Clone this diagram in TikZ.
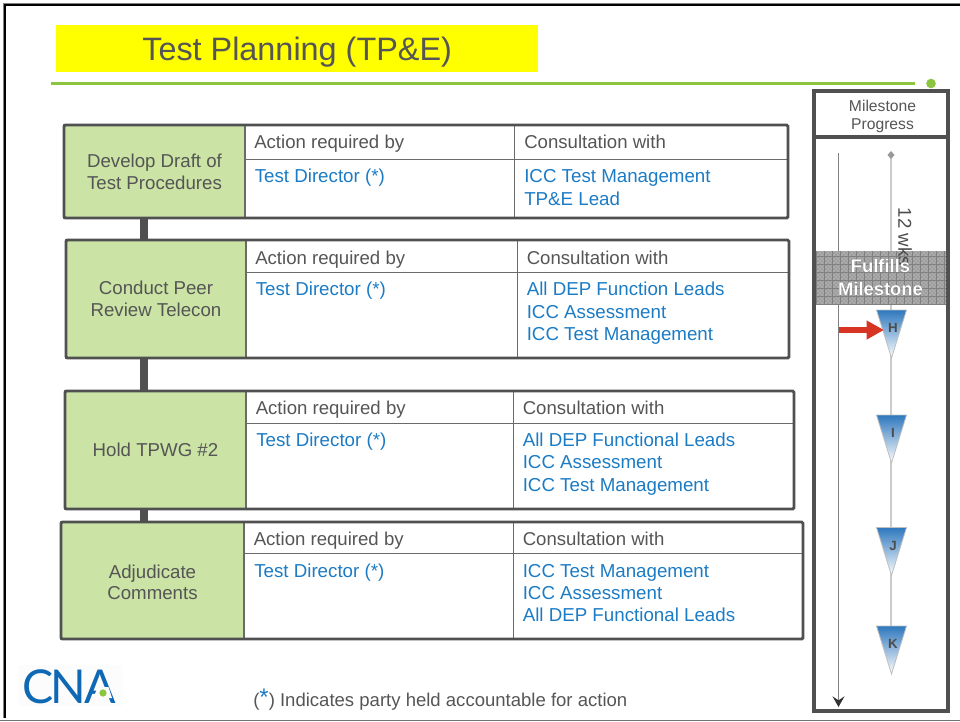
\documentclass[tikz,border=0pt]{standalone}
\usepackage{fontspec}
\usepackage[outline]{contour}
\setmainfont{Liberation Sans}
\newfontfamily\logofont{Lato}
\usetikzlibrary{calc,positioning,arrows.meta,patterns}
\definecolor{inkgray}{HTML}{555555}
\definecolor{framegray}{HTML}{505050}
\definecolor{taskgreen}{HTML}{CBE3A5}
\definecolor{linkblue}{HTML}{1B7BC4}
\definecolor{rulegreen}{HTML}{8CC63F}
\definecolor{logoblue}{HTML}{0F68B4}
\definecolor{stoneblue}{HTML}{2F78BE}
\definecolor{titleyellow}{RGB}{255,255,0}
\definecolor{arrowred}{RGB}{216,52,36}
\tikzset{
	textline/.style={font=\fontsize{13.95}{14}\selectfont, text=inkgray, anchor=west, inner sep=0pt, text height=13pt, text depth=3pt},
	bluetext/.style={textline, font=\fontsize{14.05}{14}\selectfont, text=linkblue},
	tasklabel/.style={draw=framegray!85, line width=0.8pt, fill=taskgreen, font=\fontsize{14}{16.5}\selectfont, text=inkgray, align=center, inner sep=0pt},
	rowframe/.style={draw=framegray, line width=2.2pt, rounded corners=1pt},
	rowline/.style={draw=framegray!85, line width=0.75pt},
	linkbar/.style={draw=framegray, line width=6pt},
	railline/.style={draw=black!20, line width=1.7pt},
	stonetext/.style={font=\bfseries\fontsize{10}{10}\selectfont, text=black!70, inner sep=0pt},
}
\newcommand{\stonemark}[4]{%
	\shade[top color=stoneblue, bottom color=white, draw=black!25, line width=0.6pt]
		(#2-15,#3) -- (#2+15,#3) -- (#2,#3+48) -- cycle;
	\node [stonetext] (#1) at (#2+1.5,#3+18) {#4};
}
\begin{document}
\begin{tikzpicture}[x=0.75pt,y=-0.75pt]
\useasboundingbox (0,0) rectangle (960,721);
% page edge
\draw [black!55, line width=0.8pt] (0,720.2) -- (960,720.2);
\draw [black, line width=2.2pt] (960,5) -- (5,5) -- (5,718);
\draw [black!50, line width=0.6pt] (960,3.3) -- (3.3,3.3) -- (3.3,718);

% title
\fill [titleyellow] (56,25) rectangle (538,72);
\node [font=\fontsize{24.3}{24}\selectfont, text=inkgray, inner sep=0pt, anchor=west, text height=18pt, text depth=0pt] (title) at (142,48) {Test Planning (TP\&E)};
\coordinate (rulestart) at (51,83.5);
\coordinate (ruleend) at (915,83.5);
\node [circle, fill=rulegreen, minimum size=7.2pt, inner sep=0pt] (ruledot) at (931,83.5) {};
\draw [rulegreen, line width=2.2pt] (rulestart) -- (ruleend);

% task column
\node [tasklabel, minimum width=135.75pt, minimum height=69.75pt] (draft) at (154.5,171.5) {Develop Draft of\\Test Procedures};
\node [tasklabel, minimum width=135pt, minimum height=88.5pt] (peer) at (156,299) {\rule{0pt}{12pt}Conduct Peer\\Review Telecon\\[-14pt]\rule{0pt}{0pt}};
\node [tasklabel, minimum width=135.75pt, minimum height=88.5pt] (tpwg) at (155.5,450) {Hold TPWG \#2};
\node [tasklabel, font=\fontsize{14}{16}\selectfont, minimum width=137.25pt, minimum height=87.75pt] (comments) at (152.5,580.5) {\rule{0pt}{14.5pt}Adjudicate\\Comments\\[-14pt]\rule{0pt}{0pt}};

\coordinate (barx) at (144,0);
\draw [linkbar] (barx |- draft.south) -- (barx |- peer.north);
\draw [linkbar] (barx |- peer.south) -- (barx |- tpwg.north);
\draw [linkbar] (barx |- tpwg.south) -- (barx |- comments.north);

% first row
\draw [rowline] (245,159) -- (788,159);
\draw [rowline] (514,125) -- (514,218);
\draw [rowframe] (64,125) rectangle (788,218);
\node [textline] (draftact) at (254,142) {Action required by};
\node [textline] (draftcon) at (524,142) {Consultation with};
\node [bluetext] (draftby) at (254.5,176) {Test Director (*)};
\node [bluetext] (draftw1) at (524,176) {ICC Test Management};
\node [bluetext] (draftw2) at (524,199) {TP\&E Lead};

% second row
\draw [rowline] (246,272) -- (789,272);
\draw [rowline] (517,240) -- (517,358);
\draw [rowframe] (66,240) rectangle (789,358);
\node [textline] (peeract) at (255,258) {Action required by};
\node [textline] (peercon) at (526.5,258) {Consultation with};
\node [bluetext] (peerby) at (255.5,289) {Test Director (*)};
\node [bluetext] (peerw1) at (526.5,289) {All DEP Function Leads};
\node [bluetext] (peerw2) at (526.5,312) {ICC Assessment};
\node [bluetext] (peerw3) at (526.5,334) {ICC Test Management};

% third row
\draw [rowline] (246,423) -- (794,423);
\draw [rowline] (513,391) -- (513,509);
\draw [rowframe] (65,391) rectangle (794,509);
\node [textline] (tpwgact) at (255.5,408) {Action required by};
\node [textline] (tpwgcon) at (522.5,408) {Consultation with};
\node [bluetext] (tpwgby) at (256,440) {Test Director (*)};
\node [bluetext] (tpwgw1) at (522.5,440) {All DEP Functional Leads};
\node [bluetext] (tpwgw2) at (522.5,462) {ICC Assessment};
\node [bluetext] (tpwgw3) at (522.5,485) {ICC Test Management};

% fourth row
\draw [rowline] (244,553) -- (803,553);
\draw [rowline] (513,522) -- (513,639);
\draw [rowframe] (61,522) rectangle (803,639);
\node [textline] (commact) at (253.5,539) {Action required by};
\node [textline] (commcon) at (522.5,539) {Consultation with};
\node [bluetext] (commby) at (254,571) {Test Director (*)};
\node [bluetext] (commw1) at (522.5,571) {ICC Test Management};
\node [bluetext] (commw2) at (522.5,593) {ICC Assessment};
\node [bluetext] (commw3) at (522.5,615) {All DEP Functional Leads};

% milestone column
\draw [framegray, line width=3pt] (814,91) rectangle (948,711);
\draw [framegray, line width=3pt] (814,136.5) -- (948,136.5);
\node [font=\fontsize{11.75}{13.5}\selectfont, text=inkgray, align=center, inner sep=0pt] (progress) at (882.5,116) {Milestone\\Progress};

\coordinate (timetop) at (838.5,153);
\coordinate (timeend) at (838.5,707);
\draw [black!50, line width=0.9pt, -{Stealth[length=8pt,width=9pt,inset=3pt,black!80]}] (timetop) -- (timeend);

\coordinate (railtop) at (891,155);
\coordinate (railend) at (891,626);
\draw [railline] (railtop) -- (railend);
\fill [black!40] (891,151) -- (894.5,155) -- (891,159) -- (887.5,155) -- cycle;

\fill [black!38] (816,251) rectangle (946,304);
\fill [pattern=crosshatch dots, pattern color=white!85!black] (816,251) rectangle (946,304);
\draw [black!50, line width=0.25pt, step=6pt] (816,251) grid (946,304);

\stonemark{markh}{891.5}{310}{H}
\stonemark{marki}{891.5}{415}{I}
\stonemark{markj}{891.5}{527.5}{J}
\stonemark{markk}{891.5}{626}{K}

\node [rotate=-90, font=\fontsize{14}{14}\selectfont, text=black!70, inner sep=0pt] (weeks) at (905,237) {12 wks};
\contourlength{0.35pt}
\node [font=\bfseries\fontsize{13.8}{17.2}\selectfont, text=white, align=center, inner sep=0pt] (fulfills) at (880.5,277.5) {\contour{black!80}{Fulfills}\\\contour{black!80}{Milestone}};

\coordinate (arrowtail) at (839,330);
\draw [arrowred, line width=4.5pt, shorten >=3pt, -{Triangle[length=13pt,width=13.5pt]}] (arrowtail) -- (markh.west |- arrowtail);

% footer
\node [textline, font=\fontsize{13.9}{14}\selectfont] (footnote) at (253,700) {(\raisebox{1pt}{\textcolor{linkblue}{\fontsize{18}{18}\selectfont *}}) Indicates party held accountable for action};

% logo
\fill [black!1] (18,665) rectangle (122,706);
\node [font=\logofont\fontsize{35}{35}\selectfont, text=logoblue, inner sep=0pt, anchor=west] (logo) at (22,687) {C\kern-2pt N\kern-1.5pt A};
\fill [black!1] (97.5,687) -- (108.5,687) -- (112,698) -- (93.5,698) -- cycle;
\node [circle, fill=rulegreen, minimum size=5.5pt, inner sep=0pt] (logodot) at (103,693) {};
\end{tikzpicture}
\end{document}
